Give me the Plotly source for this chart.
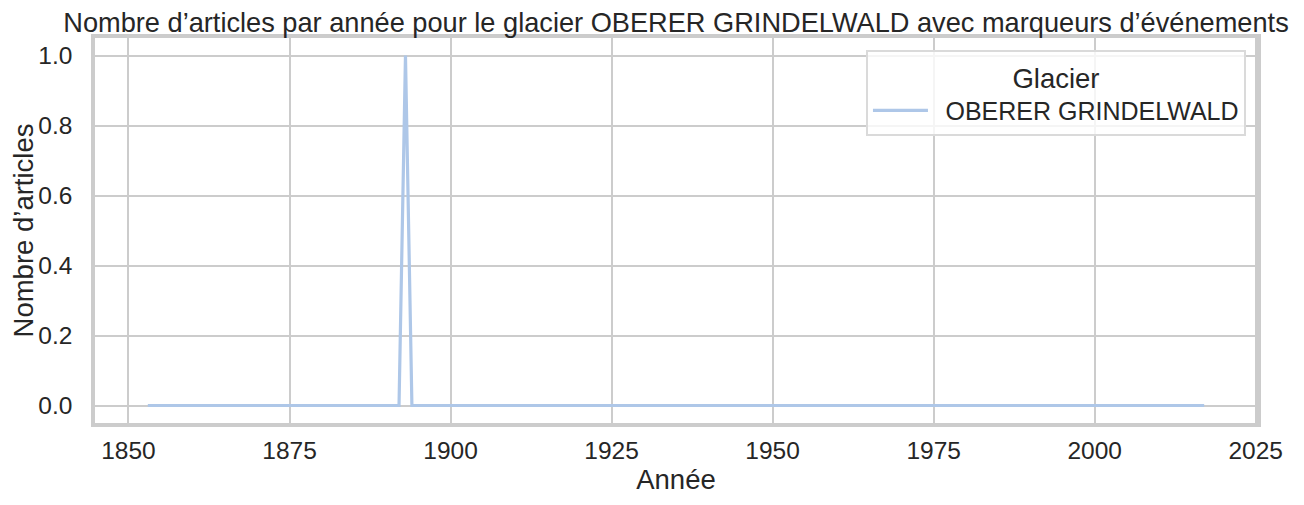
import plotly.graph_objects as go

# Articles per year for one glacier (seaborn "talk" / whitegrid look)
GLACIER = "OBERER GRINDELWALD"
YEARS = list(range(1853, 2018))
ARTICLES = [0] * 39 + [0, 1, 0] + [0] * 123  # 1853..1891, 1892..1894, 1895..2017

X_TICKS = [1850, 1875, 1900, 1925, 1950, 1975, 2000, 2025]
Y_TICKS = [0.0, 0.2, 0.4, 0.6, 0.8, 1.0]

LINE_COLOR = "#aec7e8"
GRID = "#cccccc"
TEXT = "#262626"
FONT = "Liberation Sans, Arial, sans-serif"
TICK_SIZE = 24.5
LABEL_SIZE = 27.5

# the page body adds an 8px margin, so the figure is shrunk by that much
PAGE_OFFSET = 8
FIG_W, FIG_H = 1304 - PAGE_OFFSET, 505 - PAGE_OFFSET

fig = go.Figure(
    go.Scatter(
        x=YEARS,
        y=ARTICLES,
        mode="lines",
        name="\u2002" + GLACIER,  # en space = matplotlib's gap after the handle
        line=dict(color=LINE_COLOR, width=3.2),
    )
)

axis_common = dict(
    showgrid=True,
    gridcolor=GRID,
    gridwidth=2,
    showline=True,
    linecolor=GRID,
    linewidth=3.5,
    mirror=True,
    zeroline=False,
    ticks="",
    automargin=False,
    tickfont=dict(size=TICK_SIZE, color=TEXT, family=FONT),
    title_font=dict(size=LABEL_SIZE, color=TEXT, family=FONT),
)

fig.update_xaxes(
    range=[1844.8, 2025.2],
    tickvals=X_TICKS,
    ticklabelstandoff=3,
    title_text="Année",
    title_standoff=2,
    **axis_common,
)
fig.update_yaxes(
    range=[-0.05, 1.05],
    tickvals=Y_TICKS,
    tickformat=".1f",
    ticklabelstandoff=14,
    title_text="Nombre d’articles",
    title_standoff=2,
    **axis_common,
)

fig.update_layout(
    width=FIG_W,
    height=FIG_H,
    margin=dict(l=95 - PAGE_OFFSET, r=47, t=38 - PAGE_OFFSET, b=82),
    plot_bgcolor="white",
    paper_bgcolor="white",
    font=dict(family=FONT, color=TEXT),
    title=dict(
        text="Nombre d’articles par année pour le glacier OBERER GRINDELWALD avec marqueurs d’événements",
        x=0.5,
        xanchor="center",
        xref="paper",
        y=1 - (22 - PAGE_OFFSET) / FIG_H,
        yref="container",
        yanchor="middle",
        font=dict(size=27.2, color=TEXT, family=FONT),
    ),
    showlegend=True,
    legend=dict(
        title=dict(text="Glacier", side="top center", font=dict(size=LABEL_SIZE, color=TEXT)),
        font=dict(size=25, color=TEXT),
        x=0.9905,
        xanchor="right",
        y=0.969,
        yanchor="top",
        bgcolor="rgba(255,255,255,0.8)",
        bordercolor="#dadada",
        borderwidth=2,
        itemwidth=55,
    ),
)

fig.write_html("out.html")
